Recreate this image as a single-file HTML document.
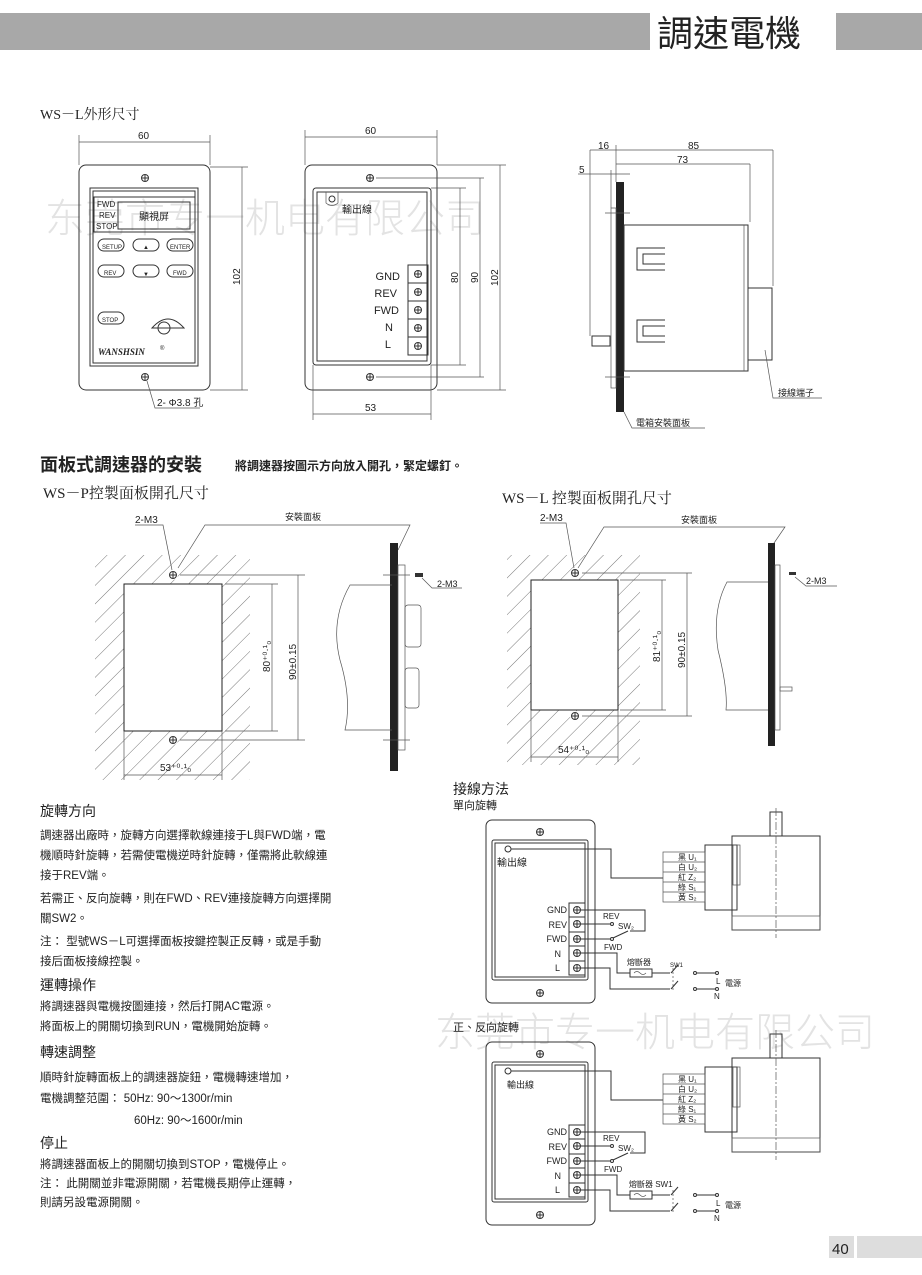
<!DOCTYPE html>
<html><head><meta charset="utf-8"><style>
html,body{margin:0;padding:0;background:#fff}
svg{display:block}
text{font-family:"Liberation Sans","Noto Sans CJK TC",sans-serif;fill:#222}
.s{font-family:"Liberation Serif","Noto Serif CJK SC",serif}
.l{stroke:#333;stroke-width:1;fill:none}
.t{stroke:#555;stroke-width:0.7;fill:none}
.wm{font-family:"Noto Sans CJK SC",sans-serif;font-weight:300;fill:#e3e3e3}
</style></head><body>
<svg width="922" height="1275" viewBox="0 0 922 1275" xmlns="http://www.w3.org/2000/svg">
<defs>
<pattern id="h" width="13" height="13" patternUnits="userSpaceOnUse" patternTransform="rotate(45)">
<line x1="0" y1="0" x2="0" y2="13" stroke="#555" stroke-width="0.8"/></pattern>
<g id="scr"><circle r="3.5" class="l"/><line x1="-3.5" y1="0" x2="3.5" y2="0" class="l"/><line x1="0" y1="-3.5" x2="0" y2="3.5" class="l"/></g>
</defs>
<!-- watermarks (behind) -->
<text x="45" y="232" font-size="40" class="wm">东莞市专一机电有限公司</text>
<text x="435" y="1046" font-size="40" class="wm">东莞市专一机电有限公司</text>

<!-- header -->
<rect x="0" y="13" width="650" height="37" fill="#a8a8a8"/>
<rect x="836" y="13" width="86" height="37" fill="#a8a8a8"/>
<text x="657" y="46" font-size="36" fill="#111">調速電機</text>

<text x="40" y="119" font-size="14" class="s">WS－L外形尺寸</text>

<!-- front view -->
<g>
<line x1="79" y1="142" x2="210" y2="142" class="t"/><line x1="79" y1="135" x2="79" y2="165" class="t"/><line x1="210" y1="135" x2="210" y2="165" class="t"/>
<text x="138" y="139" font-size="10">60</text>
<rect x="79" y="165" width="131" height="225" rx="7" class="l"/>
<line x1="210" y1="167" x2="248" y2="167" class="t"/><line x1="210" y1="390" x2="248" y2="390" class="t"/>
<line x1="242" y1="167" x2="242" y2="390" class="t"/>
<text x="0" y="0" font-size="10" transform="translate(240,285) rotate(-90)">102</text>
<rect x="90" y="188" width="108" height="178" class="l"/><rect x="93" y="191" width="102" height="172" class="l"/>
<rect x="94" y="197" width="101" height="35" class="l"/>
<rect x="118" y="202" width="72" height="27" class="l"/>
<text x="139" y="220" font-size="10">顯視屏</text>
<text x="97" y="207" font-size="8">FWD</text><text x="99" y="218" font-size="8">REV</text><text x="96" y="229" font-size="8">STOP</text>
<g font-size="6">
<rect x="98" y="239" width="26" height="12" rx="6" class="l"/><text x="102" y="249">SETUP</text>
<rect x="133" y="239" width="26" height="12" rx="6" class="l"/><text x="143" y="249">▲</text>
<rect x="167" y="239" width="26" height="12" rx="6" class="l"/><text x="170" y="249">ENTER</text>
<rect x="98" y="265" width="26" height="12" rx="6" class="l"/><text x="104" y="275">REV</text>
<rect x="133" y="265" width="26" height="12" rx="6" class="l"/><text x="143" y="276">▼</text>
<rect x="167" y="265" width="26" height="12" rx="6" class="l"/><text x="173" y="275">FWD</text>
<rect x="98" y="312" width="26" height="12" rx="6" class="l"/><text x="102" y="322">STOP</text>
</g>
<path d="M152 328 Q168 310 184 328 Z" class="l"/><circle cx="164" cy="328" r="6" class="l"/>
<text x="98" y="355" font-size="9" font-weight="bold" font-style="italic" class="s">WANSHSIN</text><text x="160" y="350" font-size="6">®</text>
<use href="#scr" x="145" y="178"/><use href="#scr" x="145" y="377"/>
<polyline points="147,381 155,408 200,408" class="t"/>
<text x="157" y="406" font-size="10">2- Φ3.8 孔</text>
</g>

<!-- rear view -->
<g>
<line x1="305" y1="137" x2="437" y2="137" class="t"/><line x1="305" y1="130" x2="305" y2="165" class="t"/><line x1="437" y1="130" x2="437" y2="165" class="t"/>
<text x="365" y="134" font-size="10">60</text>
<rect x="305" y="165" width="132" height="225" rx="7" class="l"/>
<rect x="313" y="188" width="118" height="177" rx="3" class="l"/><rect x="317" y="192" width="110" height="169" class="l"/>
<circle cx="332" cy="199" r="3" class="l"/><path d="M326 192 V203 Q332 208 338 203 V192" class="t"/>
<text x="342" y="213" font-size="10">輸出線</text>
<rect x="408" y="265" width="20" height="90" class="l"/>
<g font-size="11" text-anchor="end">
<text x="400" y="280">GND</text><text x="397" y="297">REV</text><text x="399" y="314">FWD</text><text x="393" y="331">N</text><text x="391" y="348">L</text></g>
<line x1="408" y1="283" x2="428" y2="283" class="l"/><line x1="408" y1="301" x2="428" y2="301" class="l"/><line x1="408" y1="319" x2="428" y2="319" class="l"/><line x1="408" y1="337" x2="428" y2="337" class="l"/>
<use href="#scr" x="418" y="274"/><use href="#scr" x="418" y="292"/><use href="#scr" x="418" y="310"/><use href="#scr" x="418" y="328"/><use href="#scr" x="418" y="346"/>
<use href="#scr" x="370" y="178"/><use href="#scr" x="370" y="377"/>
<line x1="376" y1="178" x2="484" y2="178" class="t"/><line x1="376" y1="377" x2="484" y2="377" class="t"/>
<line x1="431" y1="188" x2="466" y2="188" class="t"/><line x1="431" y1="365" x2="466" y2="365" class="t"/>
<line x1="437" y1="165" x2="506" y2="165" class="t"/><line x1="437" y1="390" x2="506" y2="390" class="t"/>
<line x1="460" y1="188" x2="460" y2="365" class="t"/><line x1="480" y1="178" x2="480" y2="377" class="t"/><line x1="500" y1="165" x2="500" y2="390" class="t"/>
<text font-size="10" transform="translate(458,283) rotate(-90)">80</text>
<text font-size="10" transform="translate(478,283) rotate(-90)">90</text>
<text font-size="10" transform="translate(498,286) rotate(-90)">102</text>
<line x1="313" y1="365" x2="313" y2="420" class="t"/><line x1="431" y1="365" x2="431" y2="420" class="t"/>
<line x1="313" y1="414" x2="431" y2="414" class="t"/><text x="365" y="411" font-size="10">53</text>
</g>

<!-- side view -->
<g>
<rect x="616" y="182" width="8" height="230" fill="#222"/>
<rect x="611" y="208" width="5" height="180" class="t"/>
<line x1="605" y1="213" x2="630" y2="213" class="t"/><line x1="605" y1="377" x2="630" y2="377" class="t"/>
<rect x="624" y="225" width="124" height="146" class="l"/><line x1="744" y1="225" x2="744" y2="371" class="t"/>
<rect x="748" y="288" width="24" height="72" class="l"/>
<path d="M665 248 H637 V270 H665 M665 254 H643 V264 H665" class="l"/>
<path d="M665 320 H637 V342 H665 M665 326 H643 V336 H665" class="l"/>
<rect x="592" y="336" width="18" height="10" class="l"/>
<line x1="616" y1="150" x2="773" y2="150" class="t"/><line x1="616" y1="164" x2="750" y2="164" class="t"/>
<line x1="590" y1="150" x2="616" y2="150" class="t"/>
<line x1="590" y1="150" x2="590" y2="336" class="t"/><line x1="616" y1="145" x2="616" y2="182" class="t"/>
<line x1="773" y1="150" x2="773" y2="286" class="t"/><line x1="750" y1="164" x2="750" y2="222" class="t"/>
<line x1="578" y1="174" x2="630" y2="174" class="t"/><line x1="611" y1="170" x2="611" y2="208" class="t"/>
<text x="598" y="149" font-size="10">16</text><text x="688" y="149" font-size="10">85</text><text x="677" y="163" font-size="10">73</text><text x="579" y="173" font-size="10">5</text>
<polyline points="765,350 773,398 822,398" class="t"/><text x="778" y="396" font-size="9">接線端子</text>
<polyline points="624,412 632,428 705,428" class="t"/><text x="636" y="426" font-size="9">電箱安裝面板</text>
</g>

<!-- section 2 -->
<text x="40" y="471" font-size="18" font-weight="bold">面板式調速器的安裝</text>
<text x="235" y="470" font-size="12" font-weight="bold">將調速器按圖示方向放入開孔，緊定螺釘。</text>
<text x="43" y="498" font-size="15" class="s">WS－P控製面板開孔尺寸</text>
<text x="502" y="503" font-size="15" class="s">WS－L  控製面板開孔尺寸</text>

<!-- WS-P -->
<g>
<rect x="95" y="555" width="155" height="225" fill="url(#h)"/>
<rect x="124" y="584" width="98" height="147" fill="#fff" stroke="#222" stroke-width="1"/>
<circle cx="173" cy="575" r="5" fill="#fff"/><use href="#scr" x="173" y="575"/>
<circle cx="173" cy="740" r="5" fill="#fff"/><use href="#scr" x="173" y="740"/>
<line x1="180" y1="575" x2="305" y2="575" class="t"/><line x1="180" y1="740" x2="305" y2="740" class="t"/>
<line x1="225" y1="584" x2="278" y2="584" class="t"/><line x1="225" y1="731" x2="278" y2="731" class="t"/>
<line x1="272" y1="584" x2="272" y2="731" class="t"/><line x1="298" y1="575" x2="298" y2="740" class="t"/>
<text font-size="10" transform="translate(270,672) rotate(-90)">80⁺⁰·¹₀</text>
<text font-size="10" transform="translate(296,680) rotate(-90)">90±0.15</text>
<line x1="124" y1="731" x2="124" y2="780" class="t"/><line x1="222" y1="731" x2="222" y2="780" class="t"/>
<line x1="124" y1="775" x2="222" y2="775" class="t"/><text x="160" y="771" font-size="10">53⁺⁰·¹₀</text>
<polyline points="135,525 163,525 172,570" class="t"/><text x="135" y="523" font-size="10">2-M3</text>
<polyline points="178,568 205,525 410,525 398,550" class="t"/><text x="285" y="520" font-size="9">安裝面板</text>
<rect x="390" y="543" width="8" height="228" fill="#222"/>
<rect x="398" y="565" width="7" height="185" class="t"/>
<path d="M392 585 H350 Q330 620 340 660 Q352 700 345 730 H392" class="t"/>
<rect x="405" y="605" width="16" height="42" rx="3" class="t"/><rect x="405" y="668" width="14" height="40" rx="3" class="t"/>
<line x1="383" y1="575" x2="410" y2="575" class="t"/><line x1="383" y1="740" x2="410" y2="740" class="t"/>
<rect x="415" y="573" width="8" height="4" fill="#333"/>
<polyline points="422,578 432,588 462,588" class="t"/><text x="437" y="587" font-size="9">2-M3</text>
</g>

<!-- WS-L -->
<g>
<rect x="507" y="555" width="133" height="210" fill="url(#h)"/>
<rect x="531" y="580" width="87" height="130" fill="#fff" stroke="#222" stroke-width="1"/>
<circle cx="575" cy="573" r="5" fill="#fff"/><use href="#scr" x="575" y="573"/>
<circle cx="575" cy="716" r="5" fill="#fff"/><use href="#scr" x="575" y="716"/>
<line x1="582" y1="573" x2="692" y2="573" class="t"/><line x1="582" y1="716" x2="692" y2="716" class="t"/>
<line x1="620" y1="580" x2="666" y2="580" class="t"/><line x1="620" y1="710" x2="666" y2="710" class="t"/>
<line x1="662" y1="580" x2="662" y2="710" class="t"/><line x1="687" y1="573" x2="687" y2="716" class="t"/>
<text font-size="10" transform="translate(660,662) rotate(-90)">81⁺⁰·¹₀</text>
<text font-size="10" transform="translate(685,668) rotate(-90)">90±0.15</text>
<line x1="531" y1="710" x2="531" y2="762" class="t"/><line x1="618" y1="710" x2="618" y2="762" class="t"/>
<line x1="531" y1="757" x2="618" y2="757" class="t"/><text x="558" y="753" font-size="10">54⁺⁰·¹₀</text>
<polyline points="540,523 566,523 574,568" class="t"/><text x="540" y="521" font-size="10">2-M3</text>
<polyline points="578,568 604,527 785,527 772,546" class="t"/><text x="681" y="523" font-size="9">安裝面板</text>
<rect x="768" y="543" width="7" height="203" fill="#222"/>
<rect x="775" y="565" width="5" height="165" class="t"/>
<path d="M768 582 H727 Q712 610 718 650 Q728 690 726 710 H768" class="t"/>
<rect x="780" y="687" width="12" height="4" class="t"/>
<rect x="789" y="572" width="7" height="3" fill="#333"/>
<polyline points="795,577 806,586 837,586" class="t"/><text x="806" y="584" font-size="9">2-M3</text>
</g>

<!-- text block -->
<g font-size="11.5">
<text x="40" y="816" font-size="14">旋轉方向</text>
<text x="40" y="839">調速器出廠時，旋轉方向選擇軟線連接于L與FWD端，電</text>
<text x="40" y="859">機順時針旋轉，若需使電機逆時針旋轉，僅需將此軟線連</text>
<text x="40" y="879">接于REV端。</text>
<text x="40" y="902">若需正、反向旋轉，則在FWD、REV連接旋轉方向選擇開</text>
<text x="40" y="922">關SW2。</text>
<text x="40" y="945">注：  型號WS－L可選擇面板按鍵控製正反轉，或是手動</text>
<text x="40" y="965">接后面板接線控製。</text>
<text x="40" y="990" font-size="14">運轉操作</text>
<text x="40" y="1010">將調速器與電機按圖連接，然后打開AC電源。</text>
<text x="40" y="1030">將面板上的開關切換到RUN，電機開始旋轉。</text>
<text x="40" y="1057" font-size="14">轉速調整</text>
<text x="40" y="1081">順時針旋轉面板上的調速器旋鈕，電機轉速增加，</text>
<text x="40" y="1102">電機調整范圍：  50Hz: 90～1300r/min</text>
<text x="134" y="1124">60Hz: 90～1600r/min</text>
<text x="40" y="1148" font-size="14">停止</text>
<text x="40" y="1168">將調速器面板上的開關切換到STOP，電機停止。</text>
<text x="40" y="1187">注：  此開關並非電源開關，若電機長期停止運轉，</text>
<text x="40" y="1206">則請另設電源開關。</text>
</g>

<text x="453" y="794" font-size="14">接線方法</text>
<text x="453" y="809" font-size="11">單向旋轉</text>
<text x="453" y="1031" font-size="11">正、反向旋轉</text>

<!-- wiring diagram 1 -->
<g>
<rect x="486" y="820" width="109" height="183" rx="6" class="l"/>
<rect x="492" y="840" width="96" height="140" rx="2" class="l"/><rect x="495" y="843" width="90" height="134" class="l"/>
<use href="#scr" x="540" y="832"/><use href="#scr" x="540" y="993"/>
<circle cx="508" cy="849" r="3" class="l"/>
<text x="497" y="866" font-size="10">輸出線</text>
<polyline points="511,849 611,849 611,878 663,878" class="l"/>
<rect x="569" y="903" width="16" height="72" class="l"/>
<line x1="569" y1="917" x2="585" y2="917" class="l"/><line x1="569" y1="932" x2="585" y2="932" class="l"/><line x1="569" y1="946" x2="585" y2="946" class="l"/><line x1="569" y1="961" x2="585" y2="961" class="l"/>
<use href="#scr" x="577" y="910"/><use href="#scr" x="577" y="924"/><use href="#scr" x="577" y="939"/><use href="#scr" x="577" y="953"/><use href="#scr" x="577" y="968"/>
<g font-size="9" text-anchor="end"><text x="567" y="913">GND</text><text x="567" y="928">REV</text><text x="567" y="942">FWD</text><text x="561" y="957">N</text><text x="560" y="971">L</text></g>
<polyline points="581,910 645,910 645,931 630,931" class="l"/>
<line x1="581" y1="924" x2="611" y2="924" class="l"/><circle cx="612" cy="924" r="1.5" class="l"/>
<line x1="581" y1="939" x2="611" y2="939" class="l"/><circle cx="612" cy="939" r="1.5" class="l"/>
<line x1="613" y1="938" x2="628" y2="931" class="l"/>
<text x="603" y="919" font-size="8">REV</text><text x="618" y="929" font-size="8">SW₂</text><text x="604" y="950" font-size="8">FWD</text>
<polyline points="581,953 617,953 617,973 630,973" class="l"/>
<rect x="630" y="969" width="22" height="8" class="l"/><path d="M634 973 q3 -3 6 0 t6 0" class="t"/>
<text x="627" y="965" font-size="8">熔斷器</text><text x="670" y="967" font-size="6">SW1</text>
<line x1="652" y1="973" x2="670" y2="973" class="l"/><line x1="671" y1="973" x2="678" y2="965" class="l"/>
<polyline points="581,968 610,968 610,989 670,989" class="l"/><line x1="671" y1="989" x2="678" y2="981" class="l"/>
<line x1="673" y1="968" x2="673" y2="990" class="t" stroke-dasharray="2,2"/>
<circle cx="695" cy="973" r="1.5" class="l"/><line x1="697" y1="973" x2="716" y2="973" class="l"/><circle cx="717" cy="973" r="1.5" class="l"/>
<circle cx="695" cy="989" r="1.5" class="l"/><line x1="697" y1="989" x2="716" y2="989" class="l"/><circle cx="717" cy="989" r="1.5" class="l"/>
<text x="716" y="984" font-size="8">L</text><text x="725" y="986" font-size="8">電源</text><text x="714" y="999" font-size="8">N</text>
<rect x="732" y="836" width="88" height="94" class="l"/>
<rect x="732" y="916" width="88" height="14" class="t"/>
<rect x="705" y="845" width="32" height="65" class="l"/><rect x="733" y="845" width="7" height="40" class="t"/>
<rect x="770" y="812" width="12" height="24" class="l"/>
<line x1="776" y1="808" x2="776" y2="938" class="t" stroke-dasharray="8,2,2,2"/>
<rect x="663" y="852" width="42" height="50" class="t"/>
<line x1="663" y1="862" x2="705" y2="862" class="t"/><line x1="663" y1="872" x2="705" y2="872" class="t"/><line x1="663" y1="882" x2="705" y2="882" class="t"/><line x1="663" y1="892" x2="705" y2="892" class="t"/>
<g font-size="8"><text x="678" y="860">黑 U₁</text><text x="678" y="870">白 U₂</text><text x="678" y="880">紅 Z₂</text><text x="678" y="890">綠 S₁</text><text x="678" y="900">黃 S₂</text></g>
</g>

<!-- wiring diagram 2 -->
<g transform="translate(0,222)">
<rect x="486" y="820" width="109" height="183" rx="6" class="l"/>
<rect x="492" y="840" width="96" height="140" rx="2" class="l"/><rect x="495" y="843" width="90" height="134" class="l"/>
<use href="#scr" x="540" y="832"/><use href="#scr" x="540" y="993"/>
<circle cx="508" cy="849" r="3" class="l"/>
<text x="507" y="866" font-size="9">輸出線</text>
<polyline points="511,849 611,849 611,878 663,878" class="l"/>
<rect x="569" y="903" width="16" height="72" class="l"/>
<line x1="569" y1="917" x2="585" y2="917" class="l"/><line x1="569" y1="932" x2="585" y2="932" class="l"/><line x1="569" y1="946" x2="585" y2="946" class="l"/><line x1="569" y1="961" x2="585" y2="961" class="l"/>
<use href="#scr" x="577" y="910"/><use href="#scr" x="577" y="924"/><use href="#scr" x="577" y="939"/><use href="#scr" x="577" y="953"/><use href="#scr" x="577" y="968"/>
<g font-size="9" text-anchor="end"><text x="567" y="913">GND</text><text x="567" y="928">REV</text><text x="567" y="942">FWD</text><text x="561" y="957">N</text><text x="560" y="971">L</text></g>
<polyline points="581,910 645,910 645,931 630,931" class="l"/>
<line x1="581" y1="924" x2="611" y2="924" class="l"/><circle cx="612" cy="924" r="1.5" class="l"/>
<line x1="581" y1="939" x2="611" y2="939" class="l"/><circle cx="612" cy="939" r="1.5" class="l"/>
<line x1="613" y1="938" x2="628" y2="931" class="l"/>
<text x="603" y="919" font-size="8">REV</text><text x="618" y="929" font-size="8">SW₂</text><text x="604" y="950" font-size="8">FWD</text>
<polyline points="581,953 617,953 617,973 630,973" class="l"/>
<rect x="630" y="969" width="22" height="8" class="l"/><path d="M634 973 q3 -3 6 0 t6 0" class="t"/>
<text x="629" y="965" font-size="8">熔斷器 SW1</text>
<line x1="652" y1="973" x2="670" y2="973" class="l"/><line x1="671" y1="973" x2="678" y2="965" class="l"/>
<polyline points="581,968 610,968 610,989 670,989" class="l"/><line x1="671" y1="989" x2="678" y2="981" class="l"/>
<line x1="673" y1="968" x2="673" y2="990" class="t" stroke-dasharray="2,2"/>
<circle cx="695" cy="973" r="1.5" class="l"/><line x1="697" y1="973" x2="716" y2="973" class="l"/><circle cx="717" cy="973" r="1.5" class="l"/>
<circle cx="695" cy="989" r="1.5" class="l"/><line x1="697" y1="989" x2="716" y2="989" class="l"/><circle cx="717" cy="989" r="1.5" class="l"/>
<text x="716" y="984" font-size="8">L</text><text x="725" y="986" font-size="8">電源</text><text x="714" y="999" font-size="8">N</text>
<rect x="732" y="836" width="88" height="94" class="l"/>
<rect x="732" y="916" width="88" height="14" class="t"/>
<rect x="705" y="845" width="32" height="65" class="l"/><rect x="733" y="845" width="7" height="40" class="t"/>
<rect x="770" y="812" width="12" height="24" class="l"/>
<line x1="776" y1="808" x2="776" y2="938" class="t" stroke-dasharray="8,2,2,2"/>
<rect x="663" y="852" width="42" height="50" class="t"/>
<line x1="663" y1="862" x2="705" y2="862" class="t"/><line x1="663" y1="872" x2="705" y2="872" class="t"/><line x1="663" y1="882" x2="705" y2="882" class="t"/><line x1="663" y1="892" x2="705" y2="892" class="t"/>
<g font-size="8"><text x="678" y="860">黑 U₁</text><text x="678" y="870">白 U₂</text><text x="678" y="880">紅 Z₂</text><text x="678" y="890">綠 S₁</text><text x="678" y="900">黃 S₂</text></g>
</g>

<!-- page number -->
<rect x="829" y="1236" width="25" height="22" fill="#ddd"/>
<rect x="857" y="1236" width="65" height="22" fill="#ddd"/>
<text x="832" y="1254" font-size="15">40</text>
</svg>
</body></html>
